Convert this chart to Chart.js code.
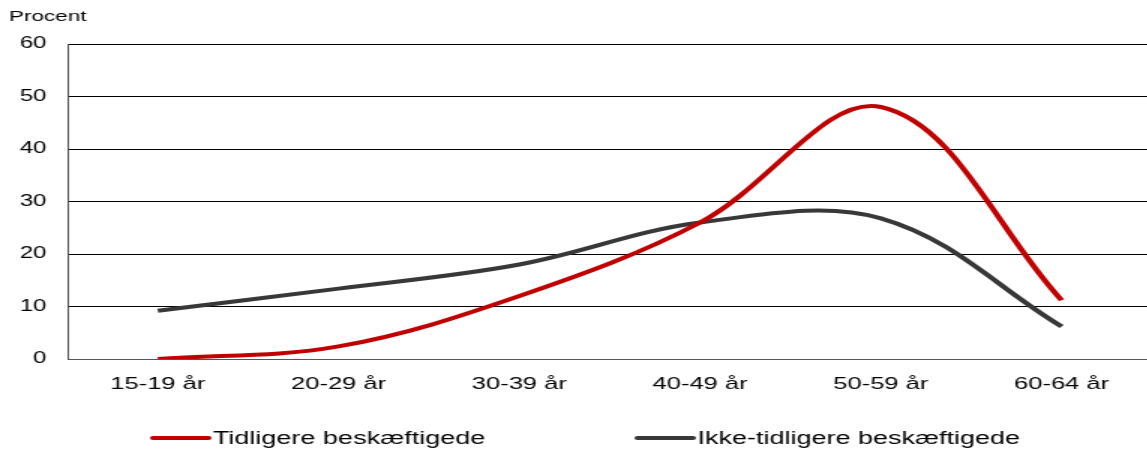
<!DOCTYPE html>
<html>
<head>
<meta charset="utf-8">
<script src="https://cdn.jsdelivr.net/npm/chart.js@4"></script>
<style>
  html, body { margin: 0; padding: 0; background: #fff; overflow: hidden; }
</style>
</head>
<body>
<!-- original picture is stretched 1.5x horizontally, so draw narrow and stretch;
     plot area runs a few px past the right edge like in the original -->
<canvas id="chartCanvas" width="768" height="450" style="display:block;width:1152px;height:450px"></canvas>
<script>
const categories = ['15-19 år', '20-29 år', '30-39 år', '40-49 år', '50-59 år', '60-64 år'];
const tidligere = [0, 2.4, 12, 26, 48, 11.2];
const ikkeTidligere = [9.2, 13.4, 18, 26, 26.8, 6.2];
const seriesNames = ['Tidligere beskæftigede', 'Ikke-tidligere beskæftigede'];
const seriesColors = ['#c00000', '#383838'];
const yTicks = [0, 10, 20, 30, 40, 50, 60];
const yUnit = 'Procent';

// Achse-Titel oben links + Legende unten
const extras = {
  id: 'extras',
  afterDraw(chart) {
    const ctx = chart.ctx;
    ctx.save();
    ctx.fillStyle = '#000';
    ctx.font = '15px "Liberation Sans", Arial, sans-serif';
    ctx.textBaseline = 'middle';
    ctx.textAlign = 'left';
    ctx.fillText(yUnit, 6, 17);

    const items = [{ x: 102, textX: 142 }, { x: 425, textX: 465 }];
    ctx.font = '18px "Liberation Sans", Arial, sans-serif';
    chart.data.datasets.forEach((ds, i) => {
      const it = items[i];
      ctx.strokeStyle = ds.borderColor;
      ctx.lineWidth = 4;
      ctx.lineCap = 'round';
      ctx.beginPath();
      ctx.moveTo(it.x, 438);
      ctx.lineTo(it.x + 37, 438);
      ctx.stroke();
      ctx.fillStyle = '#000';
      ctx.fillText(ds.label, it.textX, 439);
    });
    ctx.restore();
  }
};

const ctx = document.getElementById('chartCanvas').getContext('2d');
new Chart(ctx, {
  type: 'line',
  data: {
    labels: categories,
    datasets: [
      { label: seriesNames[0], data: tidligere, borderColor: seriesColors[0], borderWidth: 4, pointRadius: 0, tension: 0.36, fill: false },
      { label: seriesNames[1], data: ikkeTidligere, borderColor: seriesColors[1], borderWidth: 4, pointRadius: 0, tension: 0.36, fill: false }
    ]
  },
  options: {
    responsive: false,
    devicePixelRatio: 1,
    animation: false,
    layout: { padding: { top: 44, right: 0, left: 0, bottom: 0 } },
    plugins: { legend: { display: false }, tooltip: { enabled: false } },
    scales: {
      x: {
        offset: true,
        grid: { display: false, drawTicks: false },
        border: { display: true, color: '#555', width: 1 },
        ticks: { color: '#000', padding: 15, maxRotation: 0, font: { family: '"Liberation Sans", Arial, sans-serif', size: 17 } },
        afterFit: s => { s.height = 91; }
      },
      y: {
        min: 0,
        max: 60,
        afterBuildTicks: s => { s.ticks = yTicks.map(v => ({ value: v })); },
        grid: { color: '#000', lineWidth: 1, drawTicks: false },
        border: { display: true, color: '#555', width: 1 },
        ticks: { color: '#000', padding: 14, font: { family: '"Liberation Sans", Arial, sans-serif', size: 16 } },
        afterFit: s => { s.width = 45; }
      }
    }
  },
  plugins: [extras]
});
</script>
</body>
</html>
